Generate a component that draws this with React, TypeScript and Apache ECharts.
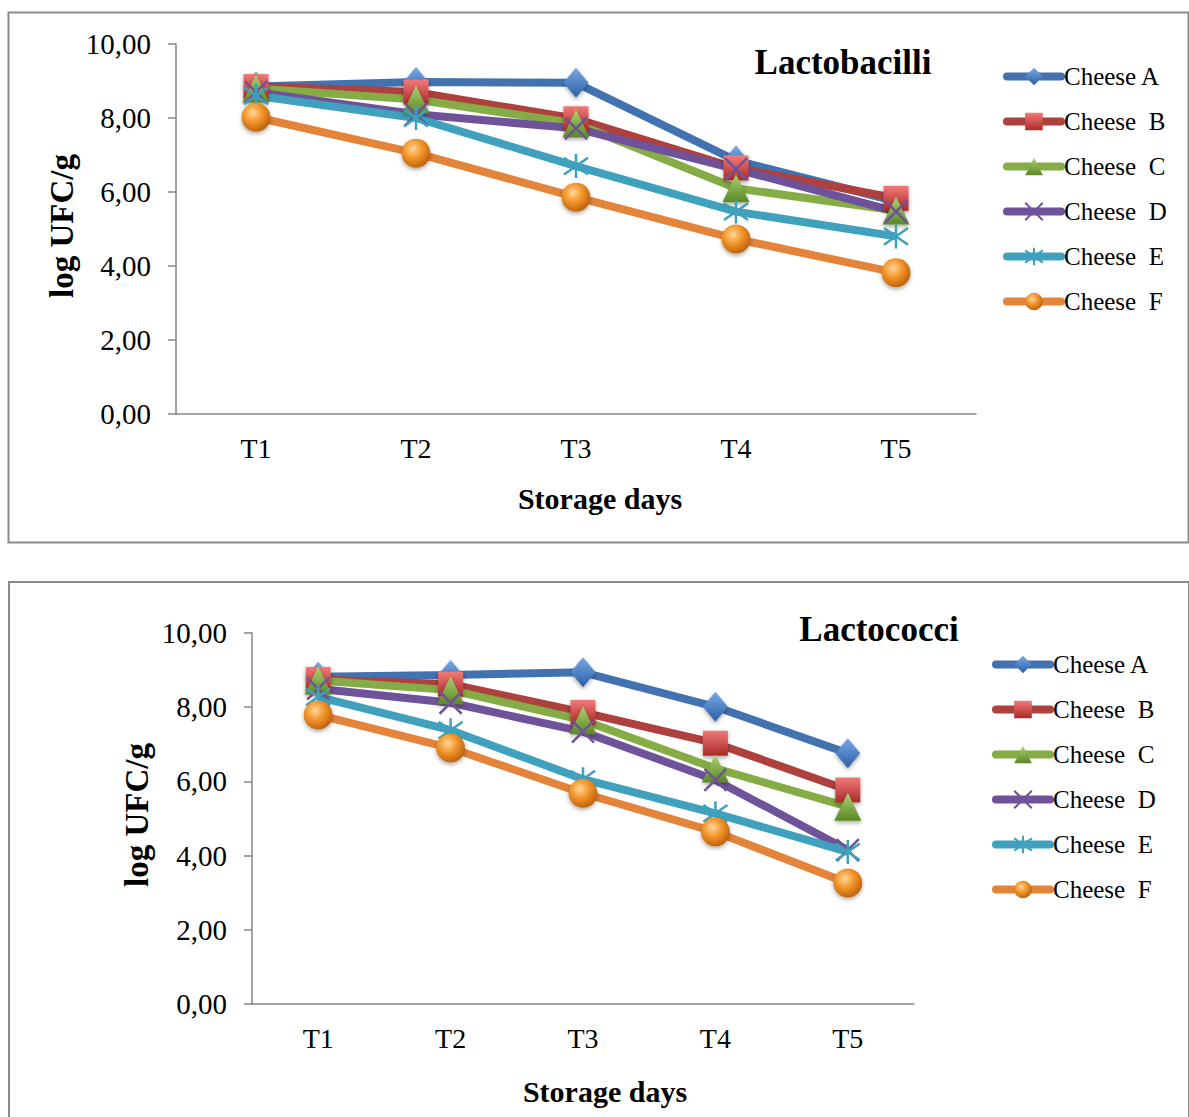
import React, { useEffect, useRef } from "react";
import * as echarts from "echarts";

const categories = ["T1", "T2", "T3", "T4", "T5"];
const seriesNames = ["Cheese A", "Cheese  B", "Cheese  C", "Cheese  D", "Cheese  E", "Cheese  F"];
const yTickLabels = ["0,00", "2,00", "4,00", "6,00", "8,00", "10,00"];

const lactobacilliA = [8.85, 8.97, 8.95, 6.85, 5.75];
const lactobacilliB = [8.85, 8.7, 7.98, 6.65, 5.83];
const lactobacilliC = [8.8, 8.5, 7.85, 6.1, 5.5];
const lactobacilliD = [8.7, 8.1, 7.72, 6.62, 5.47];
const lactobacilliE = [8.6, 8.0, 6.7, 5.47, 4.8];
const lactobacilliF = [8.02, 7.05, 5.86, 4.73, 3.82];

const lactococciA = [8.82, 8.87, 8.94, 8.01, 6.76];
const lactococciB = [8.75, 8.62, 7.86, 7.03, 5.77];
const lactococciC = [8.72, 8.46, 7.65, 6.35, 5.32];
const lactococciD = [8.5, 8.12, 7.34, 6.04, 4.15];
const lactococciE = [8.28, 7.38, 6.06, 5.14, 4.1];
const lactococciF = [7.79, 6.9, 5.68, 4.64, 3.26];

const FONT = "'Liberation Serif', 'Times New Roman', serif";

const lineColors = ["#4272B0", "#AE403D", "#86AC45", "#6F539A", "#3FA1BD", "#E4843A"];
const symbols = [
  "diamond",
  "rect",
  "triangle",
  "path://M0,0 L10,10 M10,0 L0,10",
  "path://M5,0 L5,10 M0,1.5 L10,8.5 M10,1.5 L0,8.5",
  "circle",
];
const symbolSizes: any[] = [[25, 30], 25, [27, 28], 22, 24, 29];

const lin = (a: string, b: string) => ({
  type: "linear", x: 0, y: 0, x2: 0, y2: 1,
  colorStops: [{ offset: 0, color: a }, { offset: 1, color: b }],
});
const markerFills: any[] = [
  lin("#78A8E4", "#2C5FA5"),
  lin("#F27A78", "#A92A28"),
  lin("#AED272", "#5B8724"),
  "rgba(0,0,0,0)",
  "rgba(0,0,0,0)",
  {
    type: "radial", x: 0.4, y: 0.35, r: 0.7,
    colorStops: [
      { offset: 0, color: "#FFD79A" },
      { offset: 0.45, color: "#F3962A" },
      { offset: 1, color: "#B85C0C" },
    ],
  },
];

function buildSeries(gridIndex: number, datasets: number[][]) {
  return datasets.map((d, i) => {
    const stroked = i === 3 || i === 4;
    return {
      type: "line",
      name: seriesNames[i],
      xAxisIndex: gridIndex,
      yAxisIndex: gridIndex,
      data: d,
      symbol: symbols[i],
      symbolSize: symbolSizes[i],
      lineStyle: { color: lineColors[i], width: 8 },
      itemStyle: stroked
        ? { color: markerFills[i], borderColor: lineColors[i], borderWidth: 2.5 }
        : {
            color: markerFills[i],
            borderWidth: 0,
            shadowBlur: 4,
            shadowColor: "rgba(0,0,0,0.35)",
            shadowOffsetY: 2,
          },
      z: 2,
    };
  });
}

function App() {
  const ref = useRef<HTMLDivElement>(null);
  useEffect(() => {
    if (!ref.current) return;
    const chart = echarts.init(ref.current, undefined, { renderer: "svg" });
    const axisLineStyle = { color: "#868686", width: 1.5 };
    const xAxisBase = (gridIndex: number) => ({
      type: "category",
      gridIndex,
      data: categories,
      boundaryGap: true,
      axisLine: { show: true, lineStyle: axisLineStyle },
      axisTick: { show: false },
      axisLabel: { fontFamily: FONT, fontSize: 28, color: "#000", margin: 20 },
      splitLine: { show: false },
    });
    const yAxisBase = (gridIndex: number) => ({
      type: "value",
      gridIndex,
      min: 0,
      max: 10,
      interval: 2,
      axisLine: { show: true, lineStyle: axisLineStyle },
      axisTick: { show: true, length: 8, lineStyle: axisLineStyle },
      axisLabel: {
        fontFamily: FONT,
        fontSize: 29,
        color: "#000",
        margin: 25,
        formatter: (v: number) => yTickLabels[Math.round(v / 2)],
      },
      splitLine: { show: false },
    });
    const legendBase = (left: number, top: number) => ({
      orient: "vertical",
      left,
      top,
      padding: 0,
      data: seriesNames,
      itemWidth: 54,
      itemHeight: 22,
      itemGap: 20,
      selectedMode: false,
      lineStyle: { width: 8, cap: "round" },
      textStyle: { fontFamily: FONT, fontSize: 25, color: "#000", lineHeight: 25, padding: [0, 0, 0, -2] },
    });
    const option: any = {
      animation: false,
      backgroundColor: "#fff",
      grid: [
        { left: 176, top: 44, width: 800, height: 370 },
        { left: 252, top: 633, width: 662, height: 371 },
      ],
      xAxis: [xAxisBase(0), xAxisBase(1)],
      yAxis: [yAxisBase(0), yAxisBase(1)],
      legend: [legendBase(1003, 64), legendBase(992, 652)],
      series: [
        ...buildSeries(0, [lactobacilliA, lactobacilliB, lactobacilliC, lactobacilliD, lactobacilliE, lactobacilliF]),
        ...buildSeries(1, [lactococciA, lactococciB, lactococciC, lactococciD, lactococciE, lactococciF]),
      ],
      graphic: [
        {
          type: "rect",
          shape: { x: 8.5, y: 12.5, width: 1180, height: 530 },
          style: { fill: "none", stroke: "#8A8A8A", lineWidth: 2 },
          silent: true,
          z: -1,
        },
        {
          type: "rect",
          shape: { x: 9, y: 582, width: 1180, height: 560 },
          style: { fill: "none", stroke: "#8A8A8A", lineWidth: 2 },
          silent: true,
          z: -1,
        },
        {
          type: "text",
          x: 843, y: 62,
          style: { text: "Lactobacilli", font: `bold 35px ${FONT}`, fill: "#000", textAlign: "center", textVerticalAlign: "middle" },
        },
        {
          type: "text",
          x: 879, y: 629,
          style: { text: "Lactococci", font: `bold 35px ${FONT}`, fill: "#000", textAlign: "center", textVerticalAlign: "middle" },
        },
        {
          type: "text",
          x: 600, y: 498,
          style: { text: "Storage days", font: `bold 30px ${FONT}`, fill: "#000", textAlign: "center", textVerticalAlign: "middle" },
        },
        {
          type: "text",
          x: 605, y: 1091,
          style: { text: "Storage days", font: `bold 30px ${FONT}`, fill: "#000", textAlign: "center", textVerticalAlign: "middle" },
        },
        {
          type: "text",
          x: 62, y: 226,
          rotation: Math.PI / 2,
          style: { text: "log UFC/g", font: `bold 33px ${FONT}`, fill: "#000", textAlign: "center", textVerticalAlign: "middle" },
        },
        {
          type: "text",
          x: 137, y: 815,
          rotation: Math.PI / 2,
          style: { text: "log UFC/g", font: `bold 33px ${FONT}`, fill: "#000", textAlign: "center", textVerticalAlign: "middle" },
        },
      ],
    };
    chart.setOption(option);
    return () => chart.dispose();
  }, []);
  return (
    <div
      ref={ref}
      style={{ position: "absolute", left: 0, top: 0, width: 1189, height: 1117, background: "#fff" }}
    />
  );
}

export default App;
